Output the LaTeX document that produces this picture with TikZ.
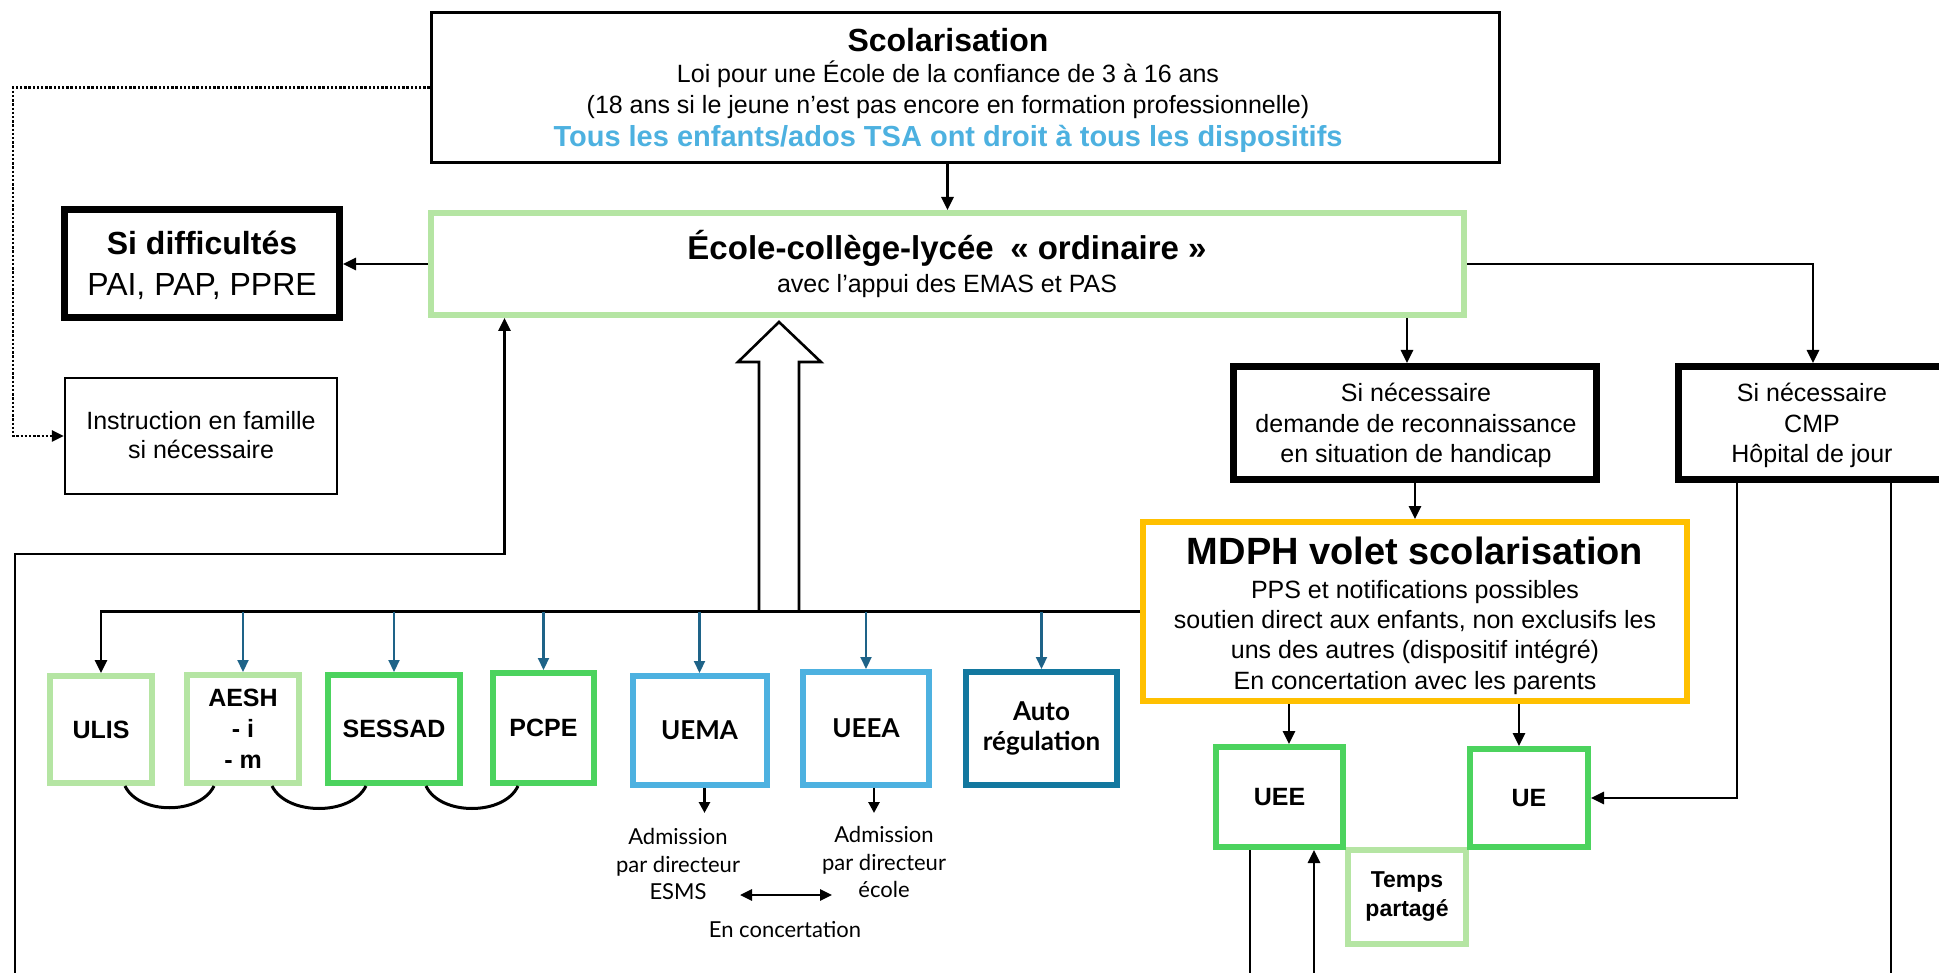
\documentclass[tikz,border=0pt]{standalone}
\usepackage{fontspec}
\setmainfont{Liberation Sans}
\newfontfamily\aptfont{Lato}
\usetikzlibrary{arrows.meta,calc}
\definecolor{lgreen}{HTML}{B5E5A3}
\definecolor{mgreen}{HTML}{4CD35E}
\definecolor{lblue}{HTML}{4DB1E0}
\definecolor{dteal}{HTML}{13789F}
\definecolor{tarrow}{HTML}{1E6388}
\definecolor{gold}{HTML}{FFC000}
\newcommand\fsreg{\fontsize{25}{30.5}\selectfont}
\newcommand\fslab{\fontsize{25}{31}\selectfont\bfseries}
\newcommand\fsapt{\aptfont\fontsize{26}{30}\selectfont\bfseries}
\newcommand\fsadm{\aptfont\fontsize{22}{28}\selectfont}
\begin{document}
\begin{tikzpicture}[x=1pt,y=-1pt,
  box/.style={draw, rectangle, inner sep=0pt, fill=white, align=center},
  tnode/.style={inner sep=0pt, anchor=base},
  conn/.style={line width=2.7pt, -{Triangle[length=13pt,width=12pt]}},
  sconn/.style={line width=2.7pt, -{Triangle[length=11pt,width=11pt]}},
  tconn/.style={draw=tarrow, line width=2.2pt, -{Triangle[length=12pt,width=11pt]}},
  plain/.style={line width=2.7pt},
  dotline/.style={line width=2.6pt, dash pattern=on 2.4pt off 1.8pt, -{Triangle[length=12pt,width=11pt]}},
  arcline/.style={line width=3pt}
]
\fill[white] (0,0) rectangle (1939,973);
\clip (0,0) rectangle (1939,973);

% ---------- big boxes ----------
\node[box, line width=3.5pt, minimum width=1068pt, minimum height=150pt] (scol) at (965.5,87.5) {};
\node[box, draw=lgreen, line width=6pt, minimum width=1033pt, minimum height=102pt] (ecole) at (947.5,264) {};
\node[box, line width=7pt, minimum width=275pt, minimum height=108pt] (sidiff) at (202,264) {};
\node[box, line width=1.6pt, minimum width=272.5pt, minimum height=116.5pt] (instr) at (201,436) {};
\node[box, line width=7pt, minimum width=363pt, minimum height=113pt] (demande) at (1415,423) {};
\node[box, line width=7pt, minimum width=269pt, minimum height=113pt] (cmp) at (1813,423) {};
\node[box, draw=gold, line width=6pt, minimum width=544pt, minimum height=179pt] (mdph) at (1415,611.5) {};

% ---------- texts of big boxes ----------
\node[tnode, font=\fontsize{32}{38}\selectfont\bfseries] (scolt) at (948,52) {Scolarisation};
\node[tnode, font=\fsreg] (scol2) at (948,83) {Loi pour une École de la confiance de 3 à 16 ans};
\node[tnode, font=\fsreg] (scol3) at (948,114) {(18 ans si le jeune n’est pas encore en formation professionnelle)};
\node[tnode, font=\fontsize{29}{33}\selectfont\bfseries, text=lblue] (scol4) at (948,147) {Tous les enfants/ados TSA ont droit à tous les dispositifs};

\node[tnode, font=\fontsize{33}{38}\selectfont\bfseries] (ecolet) at (947,260) {École-collège-lycée\enspace« ordinaire »};
\node[tnode, font=\fsreg] (ecole2) at (947,293) {avec l’appui des EMAS et PAS};

\node[tnode, font=\fontsize{32}{38}\selectfont\bfseries] (sidifft) at (202,255) {Si difficultés};
\node[tnode, font=\fontsize{32}{38}\selectfont] (sidiff2) at (202,296) {PAI, PAP, PPRE};

\node[tnode, font=\fsreg] (instr1) at (201,430) {Instruction en famille};
\node[tnode, font=\fsreg] (instr2) at (201,459) {si nécessaire};

\node[tnode, font=\fsreg] (dem1) at (1416,402) {Si nécessaire};
\node[tnode, font=\fsreg] (dem2) at (1416,432) {demande de reconnaissance};
\node[tnode, font=\fsreg] (dem3) at (1416,463) {en situation de handicap};

\node[tnode, font=\fsreg] (cmp1) at (1812,402) {Si nécessaire};
\node[tnode, font=\fsreg] (cmp2) at (1812,432) {CMP};
\node[tnode, font=\fsreg] (cmp3) at (1812,463) {Hôpital de jour};

\node[tnode, font=\fontsize{38}{44}\selectfont\bfseries] (mdpht) at (1415,564) {MDPH volet scolarisation};
\node[tnode, font=\fsreg] (mdph1) at (1415,598) {PPS et notifications possibles};
\node[tnode, font=\fsreg] (mdph2) at (1415,628) {soutien direct aux enfants, non exclusifs les};
\node[tnode, font=\fsreg] (mdph3) at (1415,658) {uns des autres (dispositif intégré)};
\node[tnode, font=\fsreg] (mdph4) at (1415,689) {En concertation avec les parents};

% ---------- small boxes ----------
\node[box, draw=lgreen, line width=6pt, minimum width=102pt, minimum height=107pt, font=\fslab] (ulis) at (101,729.5) {ULIS};
\node[box, draw=lgreen, line width=6pt, minimum width=112pt, minimum height=108pt, font=\fslab] (aesh) at (243,729) {AESH\\- i\\- m};
\node[box, draw=mgreen, line width=6pt, minimum width=132pt, minimum height=108pt, font=\fslab] (sessad) at (394,729) {SESSAD};
\node[box, draw=mgreen, line width=6pt, minimum width=101pt, minimum height=110pt, font=\fslab] (pcpe) at (543.5,728) {PCPE};
\node[box, draw=lblue, line width=6pt, minimum width=134pt, minimum height=109pt, font=\fsapt] (uema) at (699.5,730.5) {UEMA};
\node[box, draw=lblue, line width=6pt, minimum width=126pt, minimum height=113pt, font=\fsapt] (ueea) at (866,728.5) {UEEA};
\node[box, draw=dteal, line width=6pt, minimum width=151pt, minimum height=113pt, font=\fsapt] (auto) at (1041.5,728.5) {Auto\\régulation};

\node[box, draw=lgreen, line width=6pt, minimum width=118pt, minimum height=94pt, font=\fontsize{23}{29}\selectfont\bfseries] (temps) at (1407,897) {Temps\\partagé};
\node[box, draw=mgreen, line width=6pt, minimum width=127pt, minimum height=100pt, font=\fslab] (uee) at (1279.5,797) {UEE};
\node[box, draw=mgreen, line width=6pt, minimum width=118pt, minimum height=98pt, font=\fslab] (ue) at (1529,798) {UE};

% ---------- admission labels ----------
\node[tnode, font=\fsadm] (adm1a) at (678,844) {Admission};
\node[tnode, font=\fsadm] (adm1b) at (678,872) {par directeur};
\node[tnode, font=\fsadm] (adm1c) at (678,899) {ESMS};
\node[tnode, font=\fsadm] (adm2a) at (884,842) {Admission};
\node[tnode, font=\fsadm] (adm2b) at (884,870) {par directeur};
\node[tnode, font=\fsadm] (adm2c) at (884,897) {école};
\node[tnode, font=\fsadm] (conc) at (785,937) {En concertation};

% ---------- connectors ----------
\draw[conn] (scol.south -| ecole.north) -- (ecole.north);
\coordinate (dl) at (13,87.5);
\draw[dotline] (scol.west) -- (dl) |- (instr.west);
\draw[conn] (ecole.west) -- (sidiff.east);
\draw[conn] (ecole.east) -| (cmp.north);
\coordinate (demin) at ($(demande.north)+(-8,0)$);
\draw[conn] (ecole.south -| demin) -- (demin);
\draw[conn] (demande.south) -- (demande.south |- mdph.north);

% left loop
\coordinate (lb) at (15,980);
\coordinate (lturn) at (504.5,554);
\draw[conn] (lb) |- (lturn) -- (lturn |- ecole.south);

% hollow arrow
\coordinate (htip) at (779,322);
\filldraw[fill=white, line width=2.6pt, line join=miter] (759,612) -- (759,362) -- (738,362) -- (htip) -- (821,362) -- (799,362) -- (799,612);

% bus
\draw[conn] (mdph.west) -| (ulis.north);
\foreach \n in {aesh,sessad,pcpe,uema,ueea,auto}{
  \draw[tconn] (\n.north |- mdph.west) -- (\n.north);
}

% arcs between boxes
\draw[arcline] ([xshift=24pt]ulis.south) .. controls +(14,29) and +(-14,29) .. ([xshift=-29pt]aesh.south);
\draw[arcline] ([xshift=29pt]aesh.south) .. controls +(15,30) and +(-15,30) .. ([xshift=-28pt]sessad.south);
\draw[arcline] ([xshift=32pt]sessad.south) .. controls +(14,30) and +(-14,30) .. ([xshift=-25.5pt]pcpe.south);

% admission arrows
\coordinate (u1) at ($(uema.south)+(5,0)$);
\coordinate (a1) at ($(u1)+(0,25)$);
\draw[sconn] (u1) -- (a1);
\coordinate (u2) at ($(ueea.south)+(8,0)$);
\coordinate (a2) at ($(u2)+(0,25)$);
\draw[sconn] (u2) -- (a2);
\coordinate (da1) at (740,895);
\coordinate (da2) at (832,895);
\draw[line width=2.7pt, {Triangle[length=12pt,width=11pt]}-{Triangle[length=12pt,width=11pt]}] (da1) -- (da2);

% MDPH to UEE / UE
\coordinate (ueein) at ($(uee.north)+(9.5,0)$);
\draw[conn] (mdph.south -| ueein) -- (ueein);
\coordinate (uein) at ($(ue.north)+(-10,0)$);
\draw[conn] (mdph.south -| uein) -- (uein);

% CMP lines
\coordinate (c1) at ($(cmp.south)+(-76,0)$);
\draw[conn] (c1) |- (ue.east);
\coordinate (c2) at ($(cmp.south)+(78,0)$);
\coordinate (c2b) at (1891,980);
\draw[plain] (c2) -- (c2b);

% UEE bottom lines
\coordinate (e1) at ($(uee.south)+(-29.5,0)$);
\coordinate (e1b) at (1250,980);
\draw[plain] (e1) -- (e1b);
\coordinate (e2) at ($(uee.south)+(34.5,0)$);
\coordinate (e2b) at (1314,980);
\draw[conn] (e2b) -- (e2);
\end{tikzpicture}
\end{document}
